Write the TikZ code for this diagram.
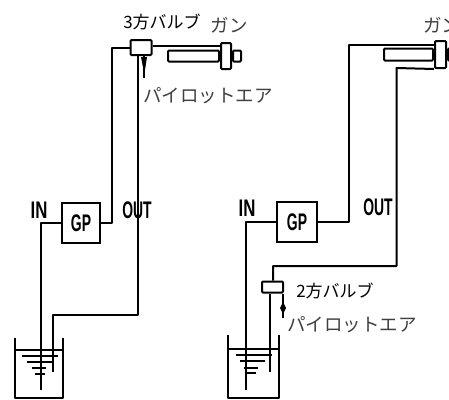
\documentclass[tikz,border=0pt]{standalone}
\usepackage{graphicx}
\usepackage{fontspec}
\setmainfont{Liberation Sans}
\newfontfamily\jpf{Noto Sans CJK JP}
\tikzset{
  pipe/.style={line width=2pt,line join=round},
  box/.style={draw,line width=2pt,inner sep=0pt,rounded corners=1pt},
  gpbox/.style={draw,line width=2pt,inner sep=0pt,minimum width=38pt,minimum height=40pt,font=\bfseries\fontsize{24}{24}\selectfont},
  tag/.style={inner sep=0pt,font=\bfseries\fontsize{24}{24}\selectfont},
  jplab/.style={inner sep=0pt,font=\jpf\fontsize{18.5}{19}\selectfont,text=black!75},
  jpsmall/.style={inner sep=0pt,font=\jpf\fontsize{17}{17}\selectfont},
  water/.style={line width=1.9pt},
  pilot/.style={line width=1.5pt},
}
\newcommand{\cond}[2][0.58]{\scalebox{#1}[1]{#2}}
\begin{document}
\begin{tikzpicture}[x=1pt,y=-1pt]
\useasboundingbox (0,0) rectangle (449,399);
\clip (0,0) rectangle (449,399);
% ---------- left diagram
\node[gpbox] (gpL) at (81,223) {\cond{GP}};
\node[box,minimum width=21pt,minimum height=15pt] (valveL) at (141,47.5) {};
\node[box,minimum width=10pt,minimum height=26pt] (flangeL) at (226,56) {};
\node[box,minimum width=51pt,minimum height=11pt,anchor=east] (barrelL) at (flangeL.west) {};
\node[box,minimum width=8pt,minimum height=11pt,anchor=west] (tipL) at (flangeL.east) {};
\coordinate (inL) at (41,390);
\coordinate (retL) at (53,372);
\coordinate (outbendL) at (138,315);
\coordinate (pilotL) at (144,78);
\draw[pipe] (gpL.west) -| (inL);
\draw[pipe] (gpL.east) -- (112,223) |- (valveL.west);
\draw[pipe] (valveL.east |- 0,46) -- (flangeL.west |- 0,46);
\draw[pipe] (138,55) -- (outbendL) -| (retL);
\draw[pilot] (pilotL) -- (valveL.south -| pilotL);
\fill (141,57) -- (147,57) -- (145,70) -- (143.5,70) -- cycle;
% tank left
\draw[pipe] (15,338) -- (15,398) -- (63,398) -- (63,338);
\draw[pipe] (15,350) -- (63,350);
\draw[water] (22,356) -- (58,356) (27,362) -- (52,362) (32,368) -- (46,368) (35,374) -- (45,374);
\node[tag] (inlabL) at (39,210) {\cond[0.7]{IN}};
\node[tag] (outlabL) at (137,210) {\cond{OUT}};
\node[jpsmall] (v3) at (162,22) {3方バルブ};
\node[jplab] (ganL) at (229,25) {ガン};
\node[jplab] (airL) at (208,96) {パイロットエア};
% ---------- right diagram
\node[gpbox,minimum width=40pt] (gpR) at (297,222) {\cond{GP}};
\node[box,minimum width=21pt,minimum height=11pt] (valveR) at (272.5,287) {};
\node[box,minimum width=11pt,minimum height=27pt] (flangeR) at (440.5,54.5) {};
\node[box,minimum width=49pt,minimum height=12pt,anchor=east] (barrelR) at (flangeR.west) {};
\node[box,minimum width=8pt,minimum height=12pt,anchor=west] (tipR) at (flangeR.east) {};
\coordinate (inR) at (246,390);
\coordinate (retR) at (270,372);
\coordinate (outtopR) at (396.5,68);
\coordinate (outbendR) at (396.5,266);
\coordinate (pilotR) at (283,318);
\draw[pipe] (gpR.west) -| (inR);
\draw[pipe] (gpR.east) -- (349,222) |- (flangeR.west |- 0,45);
\draw[pipe] (flangeR.south west) -- (outtopR) -- (outbendR) -- (273,266) -- (valveR.north -| 273,0);
\draw[pipe] (valveR.south -| retR) -- (retR);
\draw[pilot] (pilotR) -- (valveR.south -| pilotR);
\fill (283,302) -- (286,308) -- (283,314) -- (280,308) -- cycle;
% tank right
\draw[pipe] (228,335) -- (228,398) -- (279,398) -- (279,335);
\draw[pipe] (228,349) -- (279,349);
\draw[water] (236,355) -- (272,355) (240,361) -- (265,361) (244,368) -- (258,368) (246,373) -- (256,373);
\node[tag] (inlabR) at (247,208) {\cond[0.7]{IN}};
\node[tag] (outlabR) at (378,207) {\cond{OUT}};
\node[jpsmall] (v2) at (335,291) {2方バルブ};
\node[jplab,anchor=west] (ganR) at (423,25) {ガン};
\node[jplab] (airR) at (352,325) {パイロットエア};
\end{tikzpicture}
\end{document}
